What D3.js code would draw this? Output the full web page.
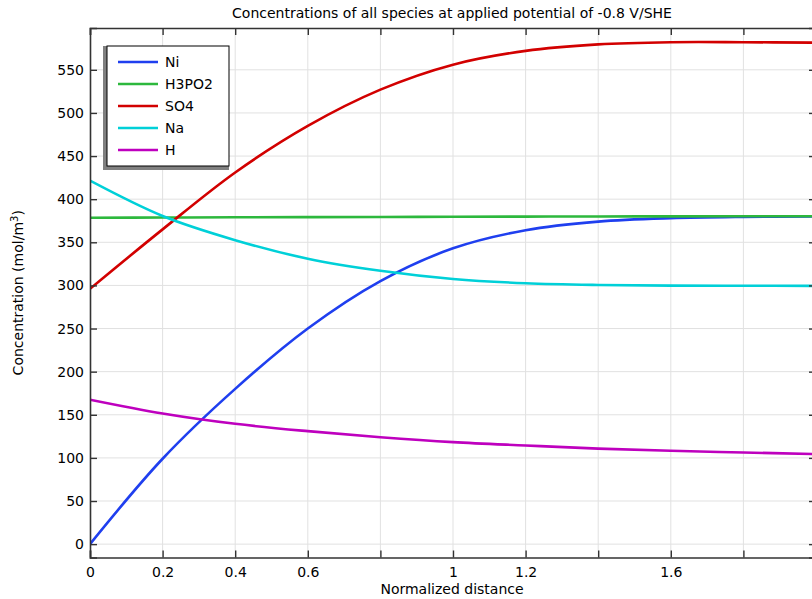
<!DOCTYPE html>
<html>
<head>
<meta charset="utf-8">
<script src="https://cdn.jsdelivr.net/npm/d3@7"></script>
<style>
  body { margin: 0; background: #fff; }
  text { font-family: "DejaVu Sans", sans-serif; fill: #000; }
</style>
</head>
<body>
<div id="chart"></div>
<script>
var xs      = [0, 0.2, 0.4, 0.6, 0.8, 1.0, 1.2, 1.4, 1.6, 1.8, 2.0];
var ni      = [0, 99, 180, 250, 305, 343, 364, 374, 378, 379.5, 380];
var h3po2   = [378.4, 378.7, 379, 379.2, 379.4, 379.6, 379.8, 380, 380.1, 380.2, 380.3];
var so4     = [296, 365, 431, 485, 527, 556, 572, 579.5, 582, 582, 581.5];
var na      = [421.5, 380.5, 352.5, 331, 317, 307.5, 302.5, 300.5, 299.8, 299.6, 299.5];
var hIon    = [167.5, 151.5, 139.5, 131, 124, 118.3, 114.4, 110.8, 108.2, 106.3, 104.4];

var seriesNames  = ["Ni", "H3PO2", "SO4", "Na", "H"];
var seriesColors = ["#1f3fef", "#2db83d", "#d20000", "#00d0d8", "#be00be"];

var xTicks  = [0, 0.2, 0.4, 0.6, 0.8, 1.0, 1.2, 1.4, 1.6, 1.8];
var xLabels = ["0", "0.2", "0.4", "0.6", "", "1", "1.2", "", "1.6", ""];
var yTicks  = [0, 50, 100, 150, 200, 250, 300, 350, 400, 450, 500, 550];

var width = 812, height = 599;
var mLeft = 90, mRight = 816, mTop = 28, mBottom = 557.5;

var svg = d3.select("#chart").append("svg")
  .attr("width", width)
  .attr("height", height);

var x = d3.scaleLinear().domain([0, 2]).range([mLeft, mRight]);
var y = d3.scaleLinear().domain([-15.5, 598.5]).range([mBottom, mTop]);

// grid
svg.append("g").selectAll("line").data(xTicks.slice(1))
  .enter().append("line")
  .attr("x1", d => x(d)).attr("x2", d => x(d))
  .attr("y1", mTop).attr("y2", mBottom)
  .attr("stroke", "#e1e1e1").attr("stroke-width", 1);
svg.append("g").selectAll("line").data(yTicks)
  .enter().append("line")
  .attr("x1", mLeft).attr("x2", mRight)
  .attr("y1", d => y(d)).attr("y2", d => y(d))
  .attr("stroke", "#e1e1e1").attr("stroke-width", 1);

// curves
svg.append("clipPath").attr("id", "plotClip")
  .append("rect").attr("x", mLeft).attr("y", mTop)
  .attr("width", mRight - mLeft).attr("height", mBottom - mTop);

var allSeries = [ni, h3po2, so4, na, hIon];
var line = d3.line()
  .x((d, i) => x(xs[i]))
  .y(d => y(d))
  .curve(d3.curveCatmullRom.alpha(0.5));

svg.append("g").attr("clip-path", "url(#plotClip)")
  .selectAll("path").data(allSeries)
  .enter().append("path")
  .attr("d", line)
  .attr("fill", "none")
  .attr("stroke", (d, i) => seriesColors[i])
  .attr("stroke-width", 2.6);

// axes (ticks point inward on all four sides)
var tickLen = 7;
var xAxisB = d3.axisBottom(x).tickValues(xTicks)
  .tickSize(-tickLen).tickPadding(10)
  .tickFormat((d, i) => xLabels[i]);
var gB = svg.append("g").attr("transform", "translate(0," + mBottom + ")").call(xAxisB);

var gT = svg.append("g").attr("transform", "translate(0," + mTop + ")")
  .call(d3.axisTop(x).tickValues(xTicks).tickSize(-tickLen).tickFormat(""));

var gL = svg.append("g").attr("transform", "translate(" + mLeft + ",0)")
  .call(d3.axisLeft(y).tickValues(yTicks).tickSize(-tickLen).tickPadding(6));

var gR = svg.append("g").attr("transform", "translate(" + mRight + ",0)")
  .call(d3.axisRight(y).tickValues(yTicks).tickSize(-tickLen).tickFormat(""));

[gB, gT, gL, gR].forEach(g => {
  g.select(".domain").attr("stroke", "#333").attr("stroke-width", 1.6);
  g.selectAll(".tick line").attr("stroke", "#333").attr("stroke-width", 1.4);
  g.selectAll(".tick text").style("font-size", "14px")
    .style("font-family", "'DejaVu Sans', sans-serif").attr("fill", "#000");
});

// titles
svg.append("text")
  .attr("x", 452).attr("y", 18)
  .attr("text-anchor", "middle")
  .style("font-size", "14px")
  .text("Concentrations of all species at applied potential of -0.8 V/SHE");

svg.append("text")
  .attr("x", 452).attr("y", 594)
  .attr("text-anchor", "middle")
  .style("font-size", "14px")
  .text("Normalized distance");

var yTitle = svg.append("text")
  .attr("transform", "translate(23," + ((mTop + mBottom) / 2) + ") rotate(-90)")
  .attr("text-anchor", "middle")
  .style("font-size", "14px");
yTitle.append("tspan").text("Concentration (mol/m");
yTitle.append("tspan").attr("dy", -5).style("font-size", "10px").text("3");
yTitle.append("tspan").attr("dy", 5).text(")");

// legend
var lg = svg.append("g");
lg.append("rect").attr("x", 103).attr("y", 46).attr("width", 126).attr("height", 124)
  .attr("fill", "#808080");
lg.append("rect").attr("x", 107).attr("y", 46).attr("width", 122).attr("height", 120)
  .attr("fill", "#fff").attr("stroke", "#000").attr("stroke-width", 1);

seriesNames.forEach((name, i) => {
  var ly = 62 + i * 22;
  lg.append("line")
    .attr("x1", 118).attr("x2", 158)
    .attr("y1", ly).attr("y2", ly)
    .attr("stroke", seriesColors[i]).attr("stroke-width", 2.6);
  lg.append("text")
    .attr("x", 165).attr("y", ly + 5)
    .style("font-size", "14px")
    .text(name);
});
</script>
</body>
</html>
